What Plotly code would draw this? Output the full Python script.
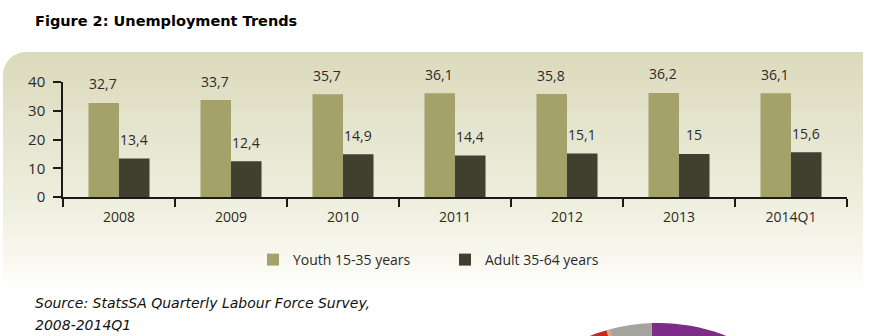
import math
import plotly.graph_objects as go

# ---- data ----
years = ['2008', '2009', '2010', '2011', '2012', '2013', '2014Q1']
youth = [32.7, 33.7, 35.7, 36.1, 35.8, 36.2, 36.1]
adult = [13.4, 12.4, 14.9, 14.4, 15.1, 15.0, 15.6]
y_ticks = [0, 10, 20, 30, 40]
series_names = ['Youth 15-35 years', 'Adult 35-64 years']

YOUTH_C = '#a4a16b'
ADULT_C = '#3f402f'
TXT = '#2b2b2b'
FONT = 'Open Sans'

W, H = 869, 336
L, R, T, B = 63, 847, 82, 197   # plot area in px


def X(px):
    return (px - L) / (R - L)


def Y(py):
    return (B - py) / (B - T)


def fmt(v):
    return f"{v:g}".replace('.', ',')


fig = go.Figure()
fig.add_trace(go.Bar(x=years, y=youth, name=series_names[0], marker_color=YOUTH_C,
                     marker_line_width=0))
fig.add_trace(go.Bar(x=years, y=adult, name=series_names[1], marker_color=ADULT_C,
                     marker_line_width=0))

bargap = 0.455
cat_w = (R - L) / len(years)
bar_w = cat_w * (1 - bargap) / 2

annotations = []
for i, v in enumerate(youth):
    annotations.append(dict(x=i, y=v, xref='x', yref='y', text=fmt(v), showarrow=False,
                            xshift=-bar_w / 2 - 1, yshift=19, yanchor='middle',
                            font=dict(family=FONT, size=14, color=TXT)))
for i, v in enumerate(adult):
    annotations.append(dict(x=i, y=v, xref='x', yref='y', text=fmt(v), showarrow=False,
                            xshift=bar_w / 2, yshift=19, yanchor='middle',
                            font=dict(family=FONT, size=14, color=TXT)))

# title and source
annotations.append(dict(x=X(33), y=Y(21), xref='paper', yref='paper', xanchor='left',
                        yanchor='middle', showarrow=False,
                        text='<b>Figure 2: Unemployment Trends</b>',
                        font=dict(family='DejaVu Sans', size=14.5, color='#000000')))
annotations.append(dict(x=X(33), y=Y(303), xref='paper', yref='paper', xanchor='left',
                        yanchor='middle', showarrow=False,
                        text='<i>Source: StatsSA Quarterly Labour Force Survey,</i>',
                        font=dict(family='DejaVu Sans', size=14, color='#111111')))
annotations.append(dict(x=X(33), y=Y(325), xref='paper', yref='paper', xanchor='left',
                        yanchor='middle', showarrow=False,
                        text='<i>2008-2014Q1</i>',
                        font=dict(family='DejaVu Sans', size=14, color='#111111')))

# ---- background panel with vertical gradient ----
shapes = []
top_y, bot_y = 52, 286
left_x, right_x = 3, 863
stops = [(52, (219, 218, 187)), (120, (228, 227, 204)), (200, (238, 238, 222)),
         (260, (248, 248, 240)), (286, (254, 254, 251))]


def col_at(py):
    for (y0, c0), (y1, c1) in zip(stops[:-1], stops[1:]):
        if y0 <= py <= y1:
            t = (py - y0) / (y1 - y0)
            c = [round(a + (b - a) * t) for a, b in zip(c0, c1)]
            return 'rgb(%d,%d,%d)' % tuple(c)
    return 'rgb(%d,%d,%d)' % stops[-1][1]


step = 3
py = top_y
while py < bot_y:
    py2 = min(py + step, bot_y)
    shapes.append(dict(type='rect', xref='paper', yref='paper', layer='below',
                       x0=X(left_x), x1=X(right_x), y0=Y(py2 + 0.5), y1=Y(py),
                       fillcolor=col_at((py + py2) / 2), line_width=0))
    py = py2

# rounded top-left corner mask
r = 28
path = 'M %f,%f L %f,%f Q %f,%f %f,%f Z' % (
    X(left_x - 1), Y(top_y - 1), X(left_x + r), Y(top_y - 1),
    X(left_x), Y(top_y), X(left_x - 1), Y(top_y + r))
shapes.append(dict(type='path', path=path, xref='paper', yref='paper', layer='below',
                   fillcolor='white', line_width=0))

# fragment of the next figure (pie) peeking in at the bottom
cx, cy, cr = 658, 510, 187


def wedge(a0, a1, color):
    pts = [(cx, cy)]
    n = 30
    for i in range(n + 1):
        a = math.radians(a0 + (a1 - a0) * i / n)
        pts.append((cx + cr * math.cos(a), cy - cr * math.sin(a)))
    p = 'M ' + ' L '.join('%f,%f' % (X(a), Y(b)) for a, b in pts) + ' Z'
    return dict(type='path', path=p, xref='paper', yref='paper', layer='below',
                fillcolor=color, line_width=0)


shapes.append(wedge(20, 92, '#7d2c87'))
shapes.append(wedge(92, 105, '#a4a49c'))
shapes.append(wedge(105, 106, '#e0a080'))
shapes.append(wedge(106, 160, '#c8281e'))

fig.update_layout(
    width=W, height=H,
    margin=dict(l=L, r=W - R, t=T, b=H - B, pad=0),
    paper_bgcolor='white', plot_bgcolor='rgba(0,0,0,0)',
    barmode='group', bargap=bargap, bargroupgap=0,
    showlegend=True,
    legend=dict(orientation='h', x=X(253), xanchor='left', y=Y(260), yanchor='middle',
                font=dict(family=FONT, size=14, color=TXT), bgcolor='rgba(0,0,0,0)',
                entrywidth=147, itemclick=False),
    annotations=annotations,
    shapes=shapes,
    xaxis=dict(type='category', range=[-0.5, len(years) - 0.5], showgrid=False,
               showline=True, linecolor='#1a1a1a',
               linewidth=1.5, ticks='outside', tickson='boundaries', ticklen=8,
               tickwidth=1.5, tickcolor='#1a1a1a', ticklabelstandoff=6, tickangle=0,
               tickfont=dict(family=FONT, size=14, color=TXT), fixedrange=True),
    yaxis=dict(range=[0, 40], tickvals=y_ticks, showgrid=False, zeroline=False,
               showline=True, linecolor='#1a1a1a', linewidth=1.5, ticks='outside',
               ticklen=8, tickwidth=1.5, tickcolor='#1a1a1a', ticklabelstandoff=5,
               tickfont=dict(family=FONT, size=15, color=TXT), fixedrange=True),
)

fig.write_html('out.html', config={'displayModeBar': False})
